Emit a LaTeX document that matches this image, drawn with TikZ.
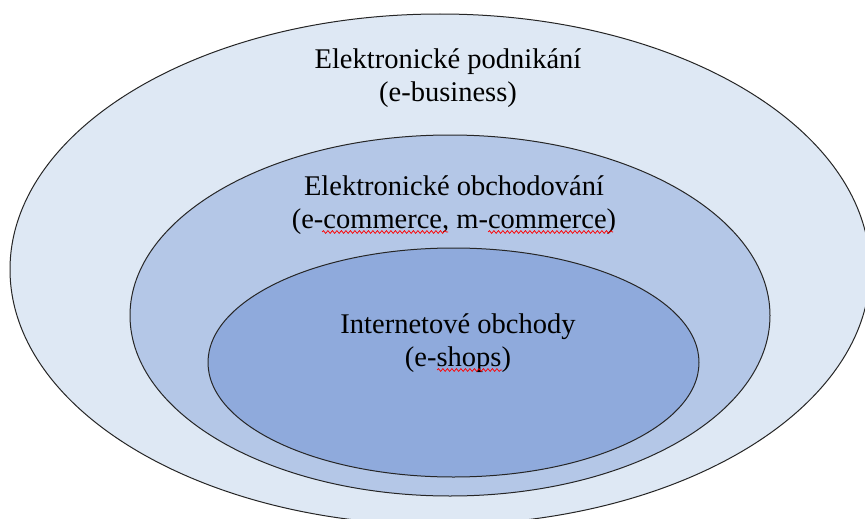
\documentclass[tikz,border=0pt]{standalone}
\usepackage{fontspec}
\setmainfont{Liberation Serif}
\usetikzlibrary{decorations.pathmorphing}
\definecolor{businessfill}{HTML}{DEE8F4}
\definecolor{commercefill}{HTML}{B4C7E7}
\definecolor{shopsfill}{HTML}{8FAADC}
\tikzset{
  ring/.style={draw=black!85, line width=1pt},
  ringtext/.style={align=center, inner sep=0pt, font=\fontsize{28.5}{33}\selectfont},
  spellwave/.style={red, line width=0.7pt, decorate, decoration={snake, segment length=4.5pt, amplitude=1.4pt}}
}
\begin{document}
\begin{tikzpicture}[x=1pt,y=-1pt]
      \useasboundingbox (0,0) rectangle (865,519);
      \fill[white] (0,0) rectangle (865,519);
      \draw[ring, fill=businessfill] (440,269.5) ellipse [x radius=430, y radius=255.5];
      \draw[ring, fill=commercefill] (450,315.5) ellipse [x radius=320, y radius=180.5];
      \draw[ring, fill=shopsfill] (453.5,362.5) ellipse [x radius=245.5, y radius=114.5];
      \node[ringtext] (business) at (448,78) {Elektronické podnikání\\(e-business)};
      \node[ringtext] (commerce) at (454,205) {Elektronické obchodování\\(e-commerce, m-commerce)};
      \node[ringtext] (shops) at (458,343) {Internetové obchody\\(e-shops)};
      % spelling marks
      \draw[spellwave] (322,232) -- (448,232);
      \draw[spellwave] (488,232) -- (613,232);
      \draw[spellwave] (437,370) -- (502,370);
    \end{tikzpicture}
\end{document}
